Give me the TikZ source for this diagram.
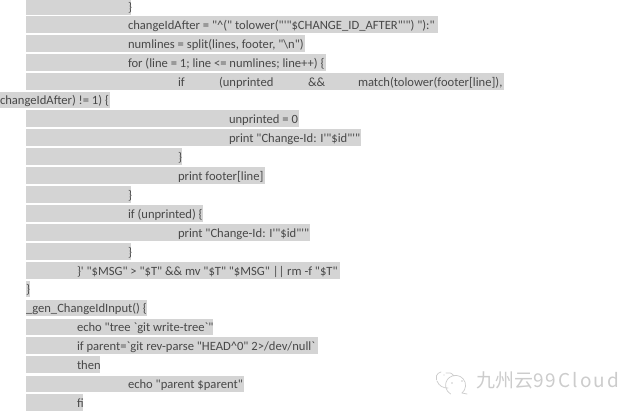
\documentclass[tikz,border=0pt]{standalone}
\usepackage{fontspec}
\newfontfamily\codefont{Carlito}
\newfontfamily\cjkfont{Noto Sans CJK SC}
\newfontfamily\markfont[LetterSpace=11]{Noto Sans CJK SC}
\definecolor{bandgrey}{HTML}{D4D4D4}
\definecolor{inkgrey}{HTML}{484848}
\definecolor{markgrey}{HTML}{CCCCCC}
\tikzset{
  band/.style={fill=bandgrey,draw=none},
  code/.style={anchor=base west,inner sep=0pt,outer sep=0pt,text=inkgrey,font=\codefont\fontsize{12.6}{14}\selectfont},
  markline/.style={draw=markgrey,line width=0.7pt,line cap=round},
  marktext/.style={anchor=base west,inner sep=0pt,text=markgrey}
}
% name, top, bottom, left, right, text x, text
\newcommand{\codeline}[7]{%
  \path[band] (#4,-#2) rectangle (#5,-#3);
  \node[code] (#1) at (#6,-#3+3.2) {#7};
}
\begin{document}
\begin{tikzpicture}[x=1pt,y=1pt]
\useasboundingbox (0,0) rectangle (640,-413);
\fill[white] (0,0) rectangle (640,-413);
\codeline{r1}{0}{14.5}{26}{131}{128}{\}}
\codeline{r2}{16}{33}{26}{438}{128}{changeIdAfter = "\textasciicircum(" tolower("'"\$CHANGE\_ID\_AFTER"'") "):"}
\codeline{r3}{35}{52}{26}{305}{128}{numlines = split(lines, footer, "\textbackslash n")}
\codeline{r4}{54}{71}{26}{326}{128}{for (line = 1; line <= numlines; line++) \{}
\codeline{r5}{73}{89.5}{26}{504}{178}{if}
\node[code] (r5b) at (219,-86.3) {(unprinted};
\node[code] (r5c) at (308,-86.3) {\&\&};
\node[code] (r5d) at (358,-86.3) {match(tolower(footer[line]),};
\codeline{r6}{92}{108}{0}{110}{0}{changeIdAfter) != 1) \{}
\codeline{r7}{110}{127}{26}{299}{229}{unprinted = 0}
\codeline{r8}{129}{146}{26}{361}{229}{print "Change-Id: I'"\$id"'"}
\codeline{r9}{148}{165}{26}{182}{178}{\}}
\codeline{r10}{167}{184}{26}{265}{178}{print footer[line]}
\codeline{r11}{186}{203}{26}{131}{128}{\}}
\codeline{r12}{205}{222}{26}{203}{128}{if (unprinted) \{}
\codeline{r13}{224}{241}{26}{310}{178}{print "Change-Id: I'"\$id"'"}
\codeline{r14}{243}{260}{26}{131}{128}{\}}
\codeline{r15}{262}{279}{26}{340}{77}{\}' "\$MSG" > "\$T" \&\& mv "\$T" "\$MSG" || rm -f "\$T"}
\codeline{r16}{281}{297}{26}{30}{26}{\}}
\codeline{r17}{300}{316}{26}{147}{26}{\_gen\_ChangeIdInput() \{}
\codeline{r18}{319}{335}{26}{213}{77}{echo "tree `git write-tree`"}
\codeline{r19}{337}{354}{26}{318}{77}{if parent=`git rev-parse "HEAD\textasciicircum 0" 2>/dev/null`}
\codeline{r20}{356}{373}{26}{100}{77}{then}
\codeline{r21}{376}{392}{26}{244}{128}{echo "parent \$parent"}
\codeline{r22}{394}{411}{26}{83}{77}{fi}
% watermark
\node[marktext,font=\cjkfont\fontsize{19}{21}\selectfont] (markcn) at (476,-387.5) {九州云};
\node[marktext,font=\markfont\fontsize{19}{21}\selectfont] (markla) at (533,-387.5) {99Cloud};
\draw[markline] (462,-393) arc[start angle=-50,end angle=240,radius=10];
\draw[markline] (462,-393) -- (467,-394);
\draw[markline] (441,-372) arc[start angle=100,end angle=200,radius=6];
\draw[markline] (437,-381) .. controls (439,-386) and (443,-388) .. (448,-388);
\draw[markline] (446,-373) .. controls (449,-372) and (452,-373) .. (454,-376);
\fill[markgrey] (452,-383) circle (0.8);
\fill[markgrey] (462,-381) circle (0.8);
\fill[markgrey] (444,-375) circle (0.7);
\end{tikzpicture}
\end{document}
